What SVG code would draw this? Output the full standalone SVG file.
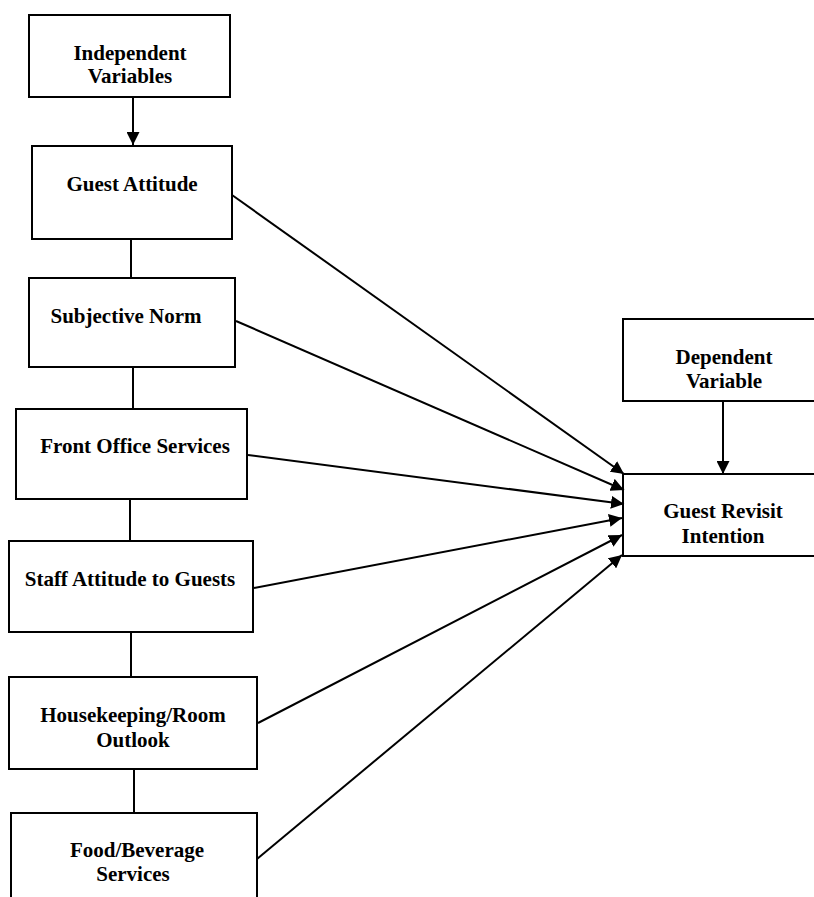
<svg xmlns="http://www.w3.org/2000/svg" width="814" height="897" viewBox="0 0 814 897">
<style>
.box{fill:#fff;stroke:#000;stroke-width:2}
.t{font-family:"Liberation Serif","Times New Roman",serif;font-weight:bold;font-size:21px;fill:#000;text-anchor:middle}
.c{stroke:#000;stroke-width:2;fill:none}
</style>
<defs>
<marker id="ah" markerUnits="userSpaceOnUse" markerWidth="13" markerHeight="13" refX="13" refY="6.5" orient="auto">
<path d="M0,0 L13,6.5 L0,13 Z" fill="#000"/>
</marker>
</defs>
<rect width="814" height="897" fill="#fff"/>
<g id="independent">
<rect class="box" x="29" y="15" width="201" height="82"/>
<text class="t" x="130" y="60">Independent</text>
<text class="t" x="130" y="83">Variables</text>
</g>
<g id="guest-attitude">
<rect class="box" x="32" y="146" width="200" height="93"/>
<text class="t" x="132" y="191">Guest Attitude</text>
</g>
<g id="subjective-norm">
<rect class="box" x="29" y="278" width="206" height="89"/>
<text class="t" x="126" y="323">Subjective Norm</text>
</g>
<g id="front-office">
<rect class="box" x="16" y="409" width="231" height="90"/>
<text class="t" x="135" y="453">Front Office Services</text>
</g>
<g id="staff-attitude">
<rect class="box" x="9" y="541" width="244" height="91"/>
<text class="t" x="130" y="586">Staff Attitude to Guests</text>
</g>
<g id="housekeeping">
<rect class="box" x="9" y="677" width="248" height="92"/>
<text class="t" x="133" y="722">Housekeeping/Room</text>
<text class="t" x="133" y="747">Outlook</text>
</g>
<g id="food-beverage">
<rect class="box" x="11" y="813" width="246" height="100"/>
<text class="t" x="137" y="857">Food/Beverage</text>
<text class="t" x="133" y="881">Services</text>
</g>
<g id="dependent">
<rect class="box" x="623" y="319" width="200" height="82"/>
<text class="t" x="724" y="364">Dependent</text>
<text class="t" x="724" y="388">Variable</text>
</g>
<g id="guest-revisit">
<rect class="box" x="623" y="474" width="200" height="82"/>
<text class="t" x="723" y="518">Guest Revisit</text>
<text class="t" x="723" y="543">Intention</text>
</g>
<g id="connectors">
<line class="c" x1="133" y1="97" x2="133" y2="145" marker-end="url(#ah)"/>
<line class="c" x1="723" y1="401" x2="723" y2="474" marker-end="url(#ah)"/>
<line class="c" x1="131" y1="239" x2="131" y2="278"/>
<line class="c" x1="133" y1="367" x2="133" y2="409"/>
<line class="c" x1="130" y1="499" x2="130" y2="541"/>
<line class="c" x1="131" y1="632" x2="131" y2="677"/>
<line class="c" x1="134" y1="769" x2="134" y2="813"/>
<line class="c" x1="232" y1="195" x2="624" y2="474" marker-end="url(#ah)"/>
<line class="c" x1="236" y1="321" x2="624" y2="490" marker-end="url(#ah)"/>
<line class="c" x1="248" y1="455" x2="624" y2="504" marker-end="url(#ah)"/>
<line class="c" x1="254" y1="588" x2="622" y2="518" marker-end="url(#ah)"/>
<line class="c" x1="258" y1="723" x2="622" y2="535" marker-end="url(#ah)"/>
<line class="c" x1="257" y1="859" x2="622" y2="555" marker-end="url(#ah)"/>
</g>
</svg>
